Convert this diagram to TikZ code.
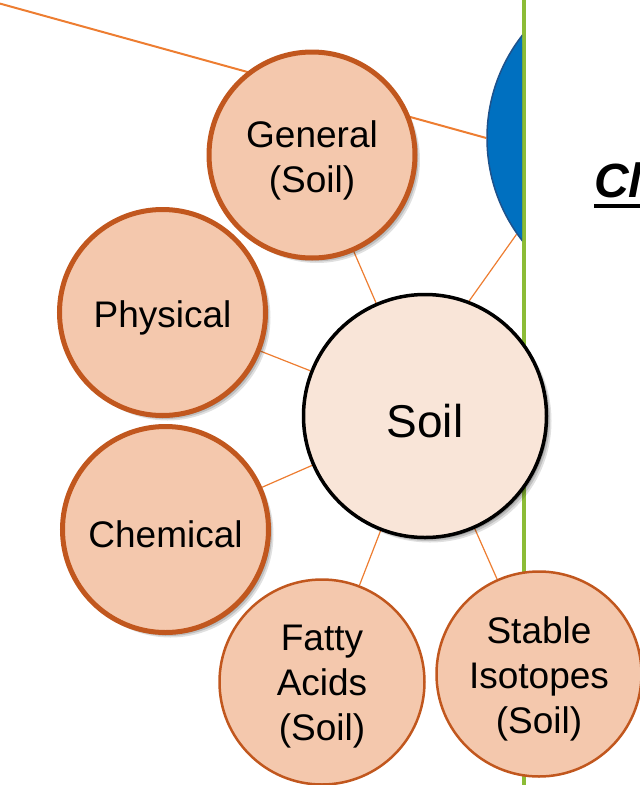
\documentclass[tikz,border=0pt]{standalone}
\usepackage{fontspec}
\setmainfont{Liberation Sans}
\usepackage{xcolor}
\usetikzlibrary{shadows,backgrounds,positioning}

\definecolor{peach}{RGB}{244,200,173}
\definecolor{rust}{RGB}{193,87,30}
\definecolor{soilfill}{RGB}{249,229,216}
\definecolor{linkorange}{RGB}{237,125,49}
\definecolor{bluefill}{RGB}{0,112,192}
\definecolor{blueedge}{RGB}{30,82,140}
\definecolor{divider}{RGB}{140,188,54}

\tikzset{
    softshadow/.style={
        drop shadow={shadow xshift=5pt, shadow yshift=-5pt, opacity=0.12, fill=black},
        drop shadow={shadow xshift=3.5pt, shadow yshift=-3.5pt, opacity=0.15, fill=black},
        drop shadow={shadow xshift=2pt, shadow yshift=-2pt, opacity=0.2, fill=black}}
}

\begin{document}
\begin{tikzpicture}[
    x=1pt, y=-1pt,
    bubble/.style={circle, draw=rust, line width=5pt, fill=peach, minimum size=206pt, inner sep=0pt, softshadow},
    flatbubble/.style={circle, draw=rust, line width=2.5pt, fill=peach, minimum size=205pt, inner sep=0pt},
    core/.style={circle, draw=black, line width=3.5pt, fill=soilfill, minimum size=243pt, inner sep=0pt, softshadow},
    disc/.style={circle, draw=blueedge, line width=1.5pt, fill=bluefill, minimum size=334pt, inner sep=0pt, softshadow},
    caption/.style={align=center, inner sep=0pt, yshift=-5pt, font=\fontsize{37}{45}\selectfont},
    link/.style={draw=linkorange, line width=2pt},
    spoke/.style={draw=linkorange, line width=1.2pt}
]
    \useasboundingbox (0,0) rectangle (640,785);

    % Soil
    \node[core] (soil) at (425,416) {};
    \node[caption, font=\fontsize{46}{52}\selectfont] (soiltext) at (soil) {Soil};

    % Blue disc, cut by the divider
    \begin{scope}
        \clip (0,0) rectangle (522,785);
        \node[disc] (blue) at (654,138) {};
    \end{scope}

    % Soil topics
    \node[bubble] (general) at (312,155) {};
    \node[bubble] (physical) at (162.5,312.5) {};
    \node[bubble] (chemical) at (165.5,529.5) {};
    \node[flatbubble] (fatty) at (322,682) {};
    \node[flatbubble] (isotopes) at (539,674) {};

    \node[caption] (generaltext) at (general) {General\\(Soil)};
    \node[caption] (physicaltext) at (physical) {Physical};
    \node[caption] (chemicaltext) at (chemical) {Chemical};
    \node[caption] (fattytext) at (fatty) {Fatty\\Acids\\(Soil)};
    \node[caption] (isotopestext) at (isotopes) {Stable\\Isotopes\\(Soil)};

    % Heading on the right
    \node[anchor=base west, inner sep=0pt, font=\fontsize{48}{56}\selectfont\bfseries\itshape] (heading) at (594,197) {Cl};
    \draw[line width=3.5pt] ([yshift=-9pt]heading.base west) -- ([yshift=-9pt]heading.base east);

    % Connectors
    \coordinate (feeder) at (-60,-13);
    \begin{scope}[on background layer]
        \draw[link] (feeder) -- (blue.180);
        \draw[spoke] (soil.69) -- (blue.215);
        \draw[spoke] (soil) -- (general);
        \draw[spoke] (soil) -- (physical);
        \draw[spoke] (soil) -- (chemical);
        \draw[spoke] (soil) -- (fatty);
        \draw[spoke] (soil) -- (isotopes);
        \draw[divider, line width=4pt] (524,0) -- (524,785);
    \end{scope}

\end{tikzpicture}
\end{document}
